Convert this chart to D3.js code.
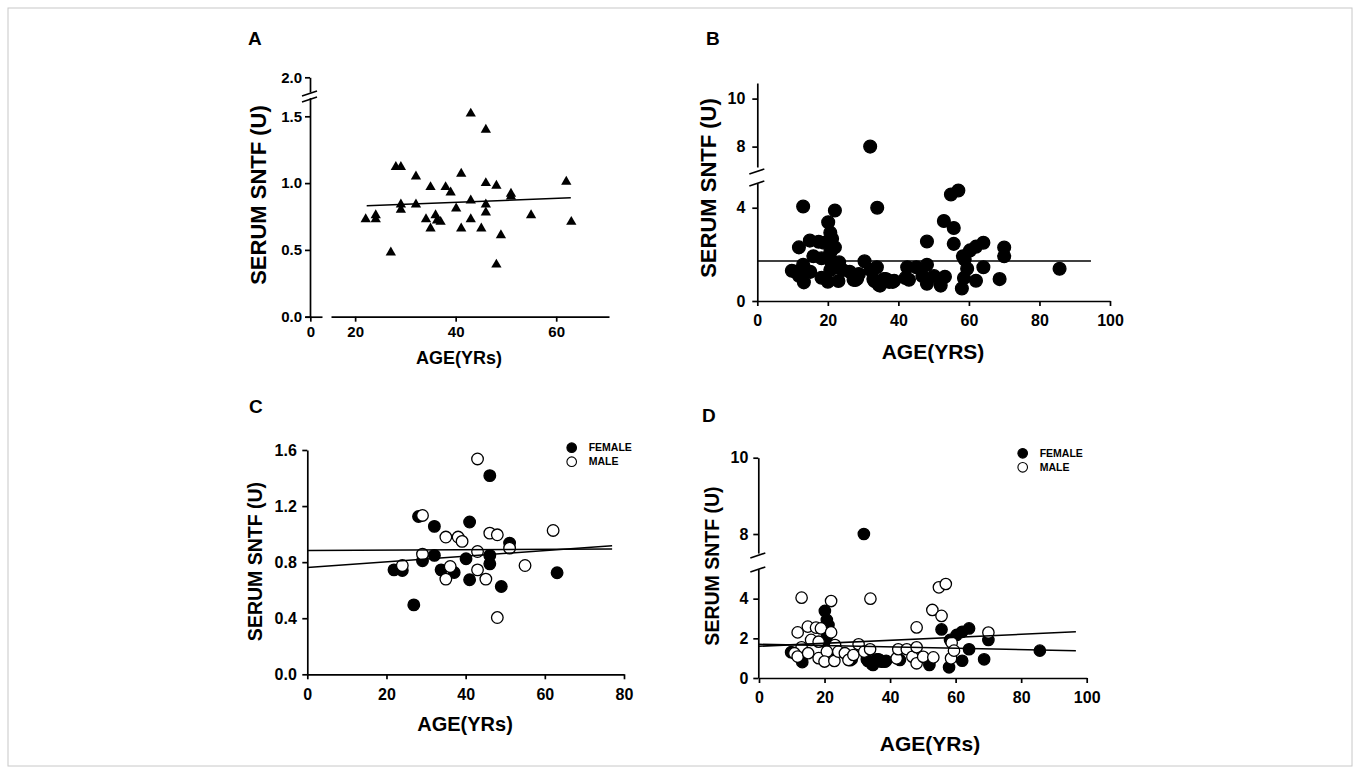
<!DOCTYPE html>
<html>
<head>
<meta charset="utf-8">
<script src="https://cdn.jsdelivr.net/npm/d3@7"></script>
<style>
  body { margin: 0; background: #fff; }
  svg { font-family: "Liberation Sans", Arial, sans-serif; font-weight: bold; }
</style>
</head>
<body>
<svg id="chart" width="1360" height="776"></svg>
<script>
// A: all subjects, small cohort (triangles)
let ageA  = [22.1,24.1,24.1,27.1,28.1,29.1,29.1,29.1,32.1,32.1,34.1,35,35,36,36.3,37,38,39,40.1,41.1,41.1,43,43,43,45.1,46,46,46,46,48.1,48.1,49,51,51,55,62,63];
let sntfA = [0.73,0.76,0.73,0.48,1.12,1.12,0.84,0.80,1.05,0.84,0.73,0.97,0.66,0.76,0.72,0.71,0.97,0.93,0.81,1.07,0.66,1.52,0.87,0.73,0.66,1.40,1.00,0.84,0.78,0.98,0.39,0.61,0.92,0.90,0.76,1.01,0.71];
let fitAgeA = [22.3, 62.9];
let fitSntfA = [0.83, 0.89];

// C: same cohort split by sex
let femaleAgeC  = [21.9,24.0,26.9,28.1,29.1,32.1,32.1,33.8,37.1,40.1,41.0,41.0,46.1,46.1,46.1,49.0,51.1,63.1];
let femaleSntfC = [0.745,0.74,0.495,1.126,0.81,1.055,0.848,0.745,0.726,0.824,1.086,0.674,0.848,0.788,1.417,0.626,0.936,0.724];
let maleAgeC    = [24.0,29.1,29.1,35.0,35.0,36.1,38.1,39.1,43.0,43.0,43.0,45.1,46.1,48.0,48.0,51.1,55.0,62.1];
let maleSntfC   = [0.776,1.133,0.857,0.979,0.679,0.769,0.979,0.948,1.536,0.876,0.745,0.679,1.007,0.995,0.405,0.9,0.776,1.026];
let fitAgeC = [0, 77];
let fitFemaleC = [0.883, 0.893];
let fitMaleC = [0.762, 0.917];

// D: large cohort split by sex (B shows them together)
let femaleAgeD  = [32,20.1,20.7,21.2,20.7,20.7,9.8,13.2,22.5,27.8,28.3,32.9,33.2,34.4,34.8,35.9,36.4,36.8,37.4,38.4,38.8,43,52,55.7,58,58.3,60.3,62,64.1,64.1,62,68.7,70,85.7];
let femaleSntfD = [8.0,3.38,2.93,2.67,2.08,1.75,1.3,0.8,1.45,0.9,0.95,0.94,0.86,0.7,0.66,0.94,0.94,0.91,0.82,0.82,0.87,0.91,0.66,2.45,0.54,1.92,2.17,2.33,2.5,1.45,0.87,0.94,1.92,1.38];
let maleAgeD    = [13,22,34,11.8,14.9,17.4,18.9,22,15.9,18.2,13,23.2,10.8,11.8,15,18.2,20.7,20,23,24.2,26.2,27.3,28.8,30.4,32.1,33.9,42,42.5,45.1,46.8,48.1,48.1,50.1,53.2,48.1,52.9,54.9,57,55.7,58.8,58.6,59.5,70];
let maleSntfD   = [4.05,3.88,4.0,2.3,2.59,2.54,2.5,2.3,1.92,1.83,1.55,1.66,1.25,1.08,1.25,1.0,1.33,0.83,0.86,1.33,1.25,0.91,1.16,1.70,1.33,1.45,0.99,1.45,1.45,1.07,1.55,0.74,1.07,1.04,2.55,3.43,4.57,4.74,3.13,1.78,0.99,1.38,2.29];
let fitAgeD = [0, 96.7];
let fitRiseD = [1.60, 2.33];
let fitFallD = [1.70, 1.38];
let fitAgeB = [0, 94.6];
let fitSntfB = [1.72, 1.72];

// tick labels
let xTicksA = [20, 40, 60], yTicksA = [0, 0.5, 1.0, 1.5], yTopTicksA = [2.0];
let xTicksB = [0, 20, 40, 60, 80, 100], yTicksB = [0, 4], yTopTicksB = [8, 10];
let xTicksC = [0, 20, 40, 60, 80], yTicksC = [0, 0.4, 0.8, 1.2, 1.6];
let xTicksD = [0, 20, 40, 60, 80, 100], yTicksD = [0, 2, 4], yTopTicksD = [8, 10];
let legendLabels = ["FEMALE", "MALE"];

let svg = d3.select("#chart");
svg.append("rect").attr("x", 8).attr("y", 8).attr("width", 1344).attr("height", 758)
  .attr("fill", "none").attr("stroke", "#c8c8c8");

function styleAxis(g, fs){
  g.selectAll("path,line").attr("stroke", "#000").attr("stroke-width", 1.7);
  g.selectAll("text").attr("fill", "#000").style("font-size", fs + "px").style("font-weight", "bold");
}
function xAxis(scale, y, ticks, fs, pad, fmt){
  let g = svg.append("g").attr("transform", "translate(0," + y + ")")
    .call(d3.axisBottom(scale).tickValues(ticks).tickSize(5).tickSizeOuter(0).tickPadding(pad).tickFormat(fmt || d3.format("d")));
  styleAxis(g, fs);
}
function yAxis(scale, x, ticks, fs, pad, fmt){
  let g = svg.append("g").attr("transform", "translate(" + x + ",0)")
    .call(d3.axisLeft(scale).tickValues(ticks).tickSize(5).tickSizeOuter(0).tickPadding(pad).tickFormat(fmt || d3.format("d")));
  styleAxis(g, fs);
}
function slash(x, y){
  svg.append("line").attr("x1", x - 8).attr("y1", y + 3).attr("x2", x + 7).attr("y2", y - 2)
    .attr("stroke", "#000").attr("stroke-width", 1.6);
}
function dots(ages, vals, x, y, r, filled){
  svg.append("g").selectAll("circle").data(d3.zip(ages, vals)).join("circle")
    .attr("cx", d => x(d[0])).attr("cy", d => y(d[1])).attr("r", r)
    .attr("fill", filled ? "#000" : "#fff").attr("stroke", "#000").attr("stroke-width", 1.3);
}
function fit(ages, vals, x, y){
  svg.append("path").datum(d3.zip(ages, vals))
    .attr("d", d3.line().x(d => x(d[0])).y(d => y(d[1])))
    .attr("fill", "none").attr("stroke", "#000").attr("stroke-width", 1.5);
}
function title(txt, x, y, fs, rot){
  svg.append("text").text(txt).attr("text-anchor", "middle").attr("dy", "0.35em")
    .attr("transform", "translate(" + x + "," + y + ")" + (rot ? " rotate(-90)" : ""))
    .style("font-size", fs + "px").attr("fill", "#000");
}
function panelLabel(txt, x, y){
  svg.append("text").text(txt).attr("x", x).attr("y", y).style("font-size", "19px").attr("fill", "#000");
}
function legend(x, y){
  legendLabels.forEach((lab, i) => {
    svg.append("circle").attr("cx", x).attr("cy", y + i * 14).attr("r", 4.8)
      .attr("fill", i === 0 ? "#000" : "#fff").attr("stroke", "#000").attr("stroke-width", 1.1);
    svg.append("text").text(lab).attr("x", x + 17).attr("y", y + i * 14 + 3.7)
      .style("font-size", "10.5px").attr("fill", "#000");
  });
}

// ---- A ----
let xA = d3.scaleLinear().domain([15.2, 70.5]).range([331, 609]);
let xA0 = d3.scaleLinear().domain([-1, 2.2]).range([305, 322]); // short stub that holds the 0 tick
let yA = d3.scaleLinear().domain([0, 1.64]).range([316.7, 97.6]);
let yA2 = d3.scaleLinear().domain([1.89, 2.0]).range([92, 77.3]);
xAxis(xA, 316.7, xTicksA, 15, 5);
xAxis(xA0, 316.7, [0], 15, 5);
yAxis(yA, 310, yTicksA, 15, 3, d3.format(".1f"));
yAxis(yA2, 310, yTopTicksA, 15, 3, d3.format(".1f"));
slash(310, 93);
slash(310, 99);
svg.append("g").selectAll("path").data(d3.zip(ageA, sntfA)).join("path")
  .attr("d", d3.symbol(d3.symbolTriangle, 46))
  .attr("transform", d => "translate(" + xA(d[0]) + "," + yA(d[1]) + ")")
  .attr("fill", "#000");
fit(fitAgeA, fitSntfA, xA, yA);
title("AGE(YRs)", 459, 358, 18);
title("SERUM SNTF (U)", 258, 195, 22, true);
panelLabel("A", 248, 45);

// ---- B ----
let xB = d3.scaleLinear().domain([0, 100]).range([757.3, 1110]);
let yB = d3.scaleLinear().domain([0, 5.06]).range([301, 183]);
let yB2 = d3.scaleLinear().domain([7.15, 10.65]).range([167, 83]);
let yBv = v => v > 6 ? yB2(v) : yB(v);
xAxis(xB, 301, xTicksB, 16, 9);
yAxis(yB, 757.3, yTicksB, 16, 7);
yAxis(yB2, 757.3, yTopTicksB, 16, 7);
slash(757.3, 171);
slash(757.3, 183);
dots(femaleAgeD.concat(maleAgeD), femaleSntfD.concat(maleSntfD), xB, yBv, 6.4, true);
fit(fitAgeB, fitSntfB, xB, yB);
title("AGE(YRS)", 933, 351.7, 21);
title("SERUM SNTF (U)", 708, 188, 22, true);
panelLabel("B", 706, 45);

// ---- C ----
let xC = d3.scaleLinear().domain([0, 80]).range([307.3, 624]);
let yC = d3.scaleLinear().domain([0, 1.6]).range([674.3, 450]);
xAxis(xC, 674.3, xTicksC, 16, 9);
yAxis(yC, 307.3, yTicksC, 16, 5.5, d3.format(".1f"));
dots(femaleAgeC, femaleSntfC, xC, yC, 5.8, true);
dots(maleAgeC, maleSntfC, xC, yC, 5.8, false);
fit(fitAgeC, fitFemaleC, xC, yC);
fit(fitAgeC, fitMaleC, xC, yC);
legend(571.7, 447.7);
title("AGE(YRs)", 465, 724, 20);
title("SERUM SNTF (U)", 255, 561.5, 19.5, true);
panelLabel("C", 249, 413);

// ---- D ----
let xD = d3.scaleLinear().domain([0, 100]).range([759, 1086.7]);
let yD = d3.scaleLinear().domain([0, 5.5]).range([678, 568.9]);
let yD2 = d3.scaleLinear().domain([7.5, 10]).range([553.1, 457.7]);
let yDv = v => v > 6 ? yD2(v) : yD(v);
xAxis(xD, 678, xTicksD, 16, 9);
yAxis(yD, 758.3, yTicksD, 16, 5);
yAxis(yD2, 758.3, yTopTicksD, 16, 5);
slash(758.3, 555);
slash(758.3, 569);
dots(femaleAgeD, femaleSntfD, xD, yDv, 5.7, true);
dots(maleAgeD, maleSntfD, xD, yDv, 5.7, false);
fit(fitAgeD, fitRiseD, xD, yD);
fit(fitAgeD, fitFallD, xD, yD);
legend(1022.7, 453.3);
title("AGE(YRs)", 930, 744, 21);
title("SERUM SNTF (U)", 711.7, 566, 19.5, true);
panelLabel("D", 702, 422);
</script>
</body>
</html>
